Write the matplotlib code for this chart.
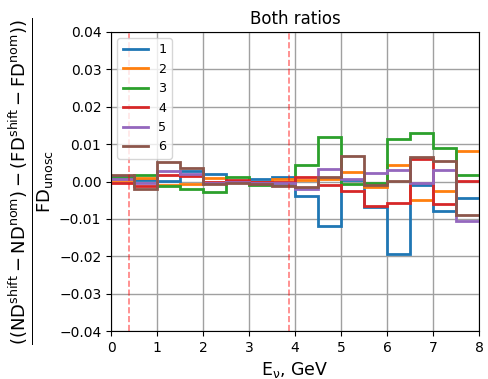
import numpy as np
import matplotlib
matplotlib.use("Agg")
import matplotlib.pyplot as plt

plt.rcParams["mathtext.default"] = "regular"

# bin edges in GeV (0.5 GeV bins)
edges = np.arange(0, 8.01, 0.5)

# relative difference per bin for each shift
s1 = [0.0015, 0.0005, 0.0001, 0.0027, 0.0021, -0.0002, 0.0006, 0.0013,
      -0.0040, -0.0119, 0.0004, -0.0068, -0.0195, -0.0009, -0.0079, -0.0044]
s2 = [0.0003, 0.0010, -0.0010, -0.0008, 0.0010, -0.0002, -0.0001, 0.0006,
      0.0004, 0.0008, 0.0025, -0.0015, 0.0044, -0.0050, -0.0026, 0.0082]
s3 = [0.0010, 0.0017, -0.0013, -0.0021, -0.0028, 0.0012, -0.0010, -0.0009,
      0.0044, 0.0118, -0.0007, -0.0004, 0.0115, 0.0129, 0.0089, 0.0017]
s4 = [-0.0004, -0.0013, 0.0017, 0.0014, 0.0000, 0.0005, -0.0002, 0.0000,
      0.0011, -0.0009, -0.0026, -0.0066, -0.0057, 0.0060, -0.0061, 0.0001]
s5 = [0.0008, -0.0004, 0.0027, 0.0019, -0.0004, -0.0002, -0.0003, -0.0004,
      -0.0019, 0.0033, 0.0008, 0.0023, 0.0031, -0.0003, 0.0031, -0.0106]
s6 = [0.0018, -0.0021, 0.0052, 0.0037, -0.0008, -0.0004, -0.0006, -0.0012,
      -0.0016, 0.0012, 0.0068, -0.0009, 0.0002, 0.0066, 0.0054, -0.0089]

series = [s1, s2, s3, s4, s5, s6]
labels = ["1", "2", "3", "4", "5", "6"]

# vertical markers (GeV)
cuts = [0.4, 3.87]

fig = plt.figure(figsize=(4.88, 3.79), dpi=100)
ax = fig.add_axes([0.2275, 0.1266, 0.754, 0.789])

for vals, lab in zip(series, labels):
    ax.stairs(vals, edges, baseline=None, label=lab, linewidth=2)

for c in cuts:
    ax.axvline(c, color="red", linestyle="--", alpha=0.5, linewidth=1.2)

ax.set_xlim(0, 8)
ax.set_ylim(-0.04, 0.04)
ax.grid(True, color="#a0a0a0", linewidth=1)
ax.set_axisbelow(True)
ax.set_title("Both ratios")
ax.set_xlabel(r"$E_{\nu}$, GeV", fontsize=12.5)
ax.set_ylabel(r"$\frac{((ND^{shift}-ND^{nom})-(FD^{shift}-FD^{nom}))}{FD_{unosc}}$",
              fontsize=18.5, labelpad=2)
ax.legend(loc="upper left", fontsize=9.2)

fig.savefig("out.png", dpi=100)
